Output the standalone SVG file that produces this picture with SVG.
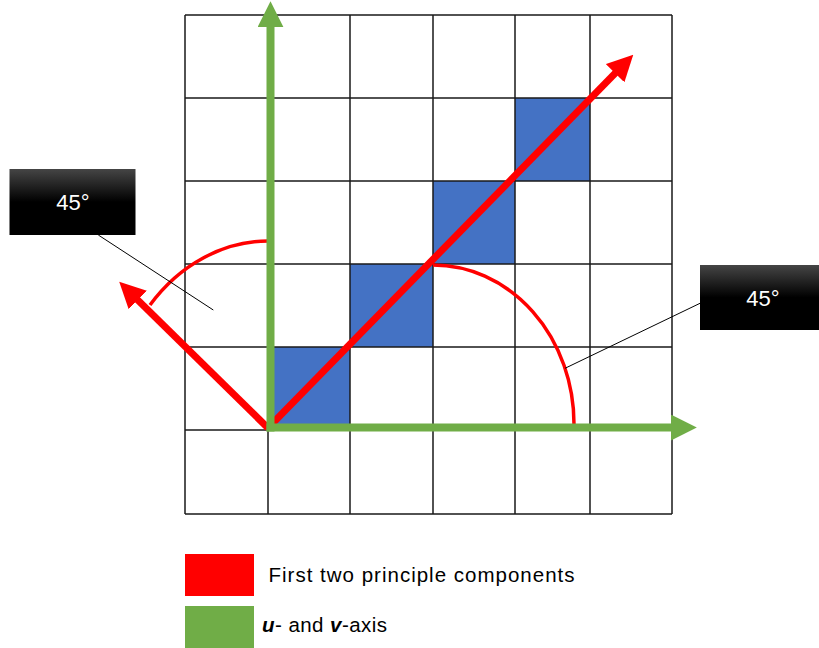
<svg xmlns="http://www.w3.org/2000/svg" width="819" height="648" viewBox="0 0 819 648">
<defs>
<style>
.cell{fill:#4472C4}
.grid{stroke:#1a1a1a;stroke-width:1.5;fill:none}
.arc{stroke:#FF0000;stroke-width:3.5;fill:none}
.red{stroke:#FF0000;stroke-width:7;fill:none}
.green{stroke:#70AD47;stroke-width:8;fill:none}
.leader{stroke:#000;stroke-width:1;fill:none}
.box{fill:url(#boxgrad)}
.lbl{font-family:"Liberation Sans",Arial,sans-serif;font-size:22px;fill:#fff;text-anchor:middle}
.leg{font-family:"Liberation Sans",Arial,sans-serif;font-size:20.5px;fill:#000}
</style>
<linearGradient id="boxgrad" x1="0" y1="0" x2="0" y2="1">
<stop offset="0" stop-color="#454545"/>
<stop offset="0.5" stop-color="#000"/>
<stop offset="1" stop-color="#000"/>
</linearGradient>
<marker id="headRed" markerUnits="userSpaceOnUse" markerWidth="26" markerHeight="26" viewBox="0 0 24 24" refX="2" refY="12" orient="auto">
<path d="M0,0 L24,12 L0,24 z" fill="#FF0000"/>
</marker>
<marker id="headGreen" markerUnits="userSpaceOnUse" markerWidth="26" markerHeight="26" viewBox="0 0 24 24" refX="2" refY="12" orient="auto">
<path d="M0,0 L24,12 L0,24 z" fill="#70AD47"/>
</marker>
</defs>
<rect width="819" height="648" fill="#fff"/>
<g id="grid">
<rect class="cell" x="268" y="347" width="82" height="83"/>
<rect class="cell" x="350" y="264" width="83" height="83"/>
<rect class="cell" x="433" y="181" width="82" height="83"/>
<rect class="cell" x="515" y="98" width="75" height="83"/>
<path class="grid" d="M185,15 H672 M185,98 H672 M185,181 H672 M185,264 H672 M185,347 H672 M185,430 H672 M185,514 H672 M185,15 V514 M268,15 V514 M350,15 V514 M433,15 V514 M515,15 V514 M590,15 V514 M672,15 V514"/>
</g>
<g id="angles">
<path class="arc" d="M268,241 A158,187 0 0 0 150,305"/>
<path class="arc" d="M433,265 A141,159 0 0 1 574,424"/>
</g>
<g id="connectors">
<line class="red" x1="268" y1="428" x2="616.6" y2="71.7" marker-end="url(#headRed)"/>
<line class="red" x1="268" y1="428" x2="136.2" y2="298.4" marker-end="url(#headRed)"/>
<line class="green" x1="270.5" y1="431.5" x2="270.5" y2="25" marker-end="url(#headGreen)"/>
<line class="green" x1="266.5" y1="427.5" x2="673" y2="427.5" marker-end="url(#headGreen)"/>
<line class="leader" x1="98.3" y1="235" x2="213.3" y2="310"/>
<line class="leader" x1="700" y1="303.3" x2="565" y2="368.3"/>
</g>
<g id="label-left">
<rect class="box" x="9.5" y="169" width="126" height="66"/>
<text class="lbl" x="73" y="210">45°</text>
</g>
<g id="label-right">
<rect class="box" x="700" y="265" width="126" height="65"/>
<text class="lbl" x="763" y="305.5">45°</text>
</g>
<g id="legend-red">
<rect x="185" y="554" width="69" height="42" fill="#FF0000"/>
<text class="leg" x="268.5" y="582" textLength="306" lengthAdjust="spacing">First two principle components</text>
</g>
<g id="legend-green">
<rect x="185" y="606" width="69" height="42" fill="#70AD47"/>
<text class="leg" x="262" y="632" textLength="125" lengthAdjust="spacing"><tspan font-weight="bold" font-style="italic">u</tspan>- and <tspan font-weight="bold" font-style="italic">v</tspan>-axis</text>
</g>
</svg>
